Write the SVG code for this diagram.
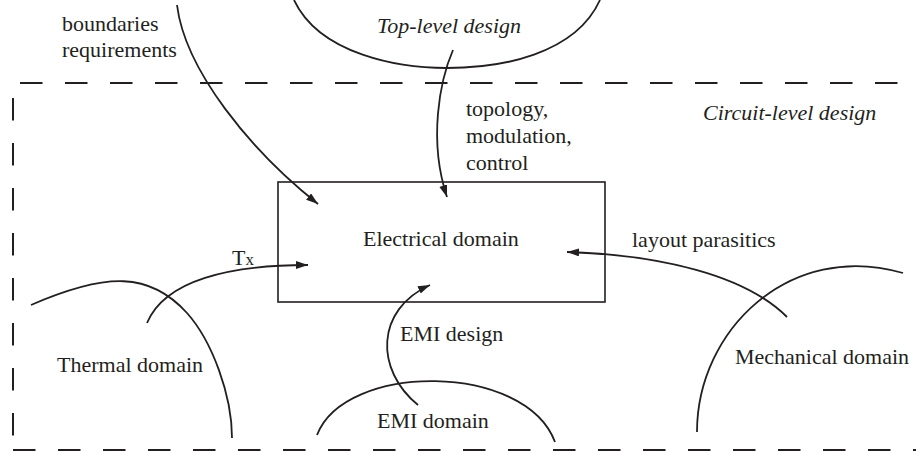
<svg xmlns="http://www.w3.org/2000/svg" width="916" height="452" viewBox="0 0 916 452">
<style>
  text { font-family: "Liberation Serif", "Times New Roman", serif; font-size: 22px; fill: #231f20; }
  .it { font-style: italic; }
  .dash { stroke: #231f20; stroke-width: 2; fill: none; stroke-dasharray: 22.5 22.5; }
  .curve { stroke: #231f20; stroke-width: 1.8; fill: none; }
  .arrow { stroke: #231f20; stroke-width: 1.8; fill: none; marker-end: url(#ah); }
  .box { stroke: #231f20; stroke-width: 1.6; fill: none; }
</style>
<defs>
  <marker id="ah" markerUnits="userSpaceOnUse" markerWidth="14" markerHeight="10" refX="12" refY="4" orient="auto">
    <path d="M0,0 L12,4 L0,8 Z" fill="#231f20"/>
  </marker>
</defs>
<rect width="916" height="452" fill="#ffffff"/>

<g id="circuit-level-boundary">
  <line class="dash" x1="20" y1="83" x2="916" y2="83"/>
  <line class="dash" x1="13" y1="98" x2="13" y2="436"/>
  <line class="dash" x1="13" y1="450" x2="916" y2="450"/>
  <text class="it" x="703" y="120">Circuit-level design</text>
</g>

<g id="top-level">
  <path class="curve" d="M294,0 C320,55 400,68 447,68 C500,68 575,55 600,0"/>
  <text class="it" x="377" y="33">Top-level design</text>
</g>

<g id="electrical">
  <rect class="box" x="278" y="182" width="327" height="120"/>
  <text x="363" y="246">Electrical domain</text>
</g>

<g id="thermal">
  <path class="curve" d="M31,305 C107,272 150,272 187,313 C212,341 232,395 232,438"/>
  <text x="57" y="372">Thermal domain</text>
</g>

<g id="emi">
  <path class="curve" d="M317,435 C345,362 525,362 555,442"/>
  <text x="377" y="428">EMI domain</text>
</g>

<g id="mechanical">
  <path class="curve" d="M697,432 C697,330 790,240 903,273"/>
  <text x="735" y="364">Mechanical domain</text>
</g>

<g id="connectors">
  <path class="arrow" d="M177,5 C185,70 250,150 318,204"/>
  <path class="arrow" d="M453,50 C440,80 428,140 447,197"/>
  <path class="arrow" d="M147,323 C165,280 230,265 308,265"/>
  <path class="arrow" d="M418,405 C375,370 375,310 430,285"/>
  <path class="arrow" d="M787,317 C745,275 660,255 567,252"/>
</g>

<g id="labels">
  <text x="62" y="31">boundaries</text>
  <text x="62" y="57">requirements</text>
  <text x="466" y="116">topology,</text>
  <text x="466" y="143">modulation,</text>
  <text x="466" y="170">control</text>
  <text x="232" y="265">T<tspan font-size="17">x</tspan></text>
  <text x="400" y="341">EMI design</text>
  <text x="632" y="247">layout parasitics</text>
</g>
</svg>
